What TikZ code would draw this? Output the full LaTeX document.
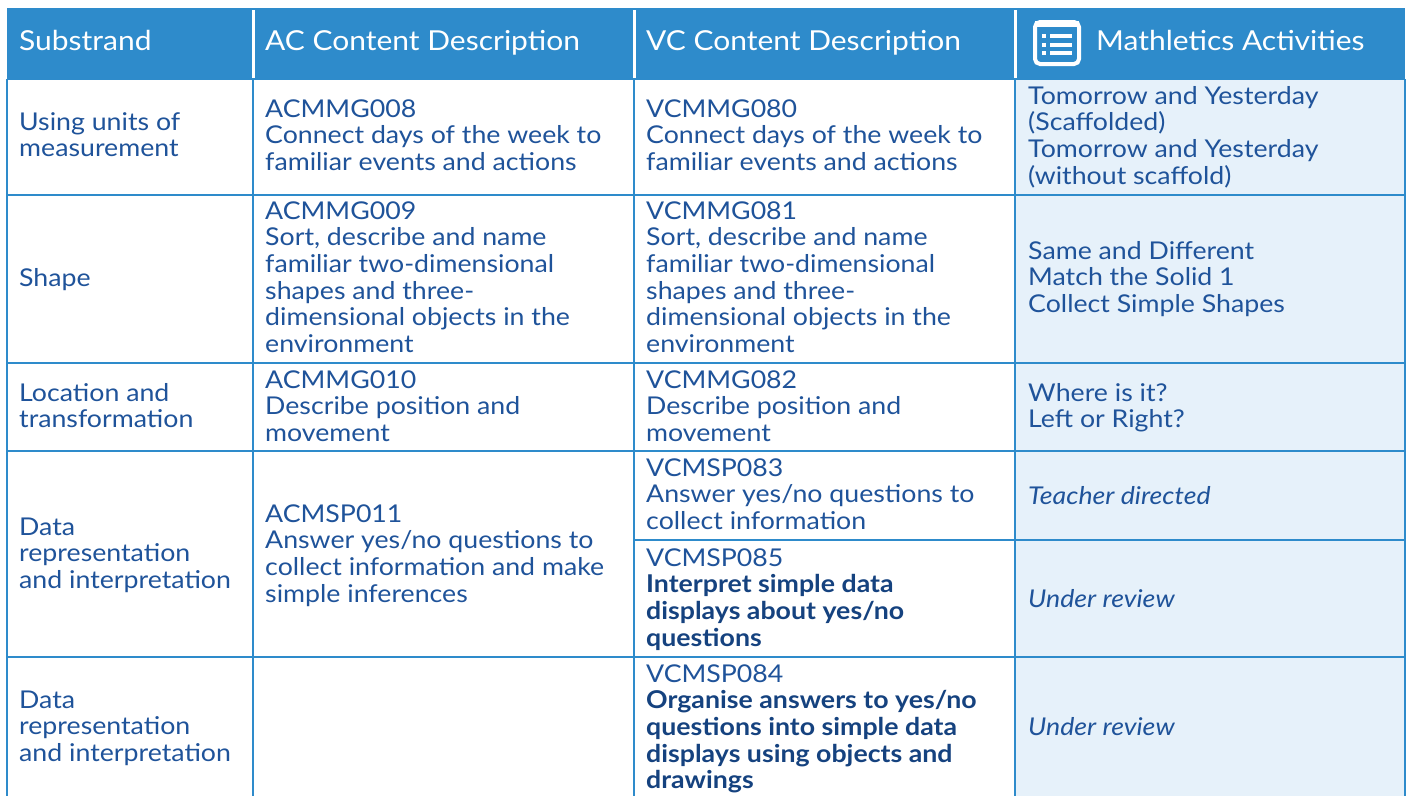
\documentclass[tikz,border=0pt]{standalone}
\usepackage{fontspec}
\setmainfont{Lato}[FakeStretch=1.09]
\definecolor{hdr}{HTML}{2E8BCB}
\definecolor{grid}{HTML}{2E8BCB}
\definecolor{txt}{HTML}{1F539A}
\definecolor{txtb}{HTML}{15427F}
\definecolor{actfill}{HTML}{E6F1FA}
\newcommand{\celltxt}[2]{\parbox[t]{#1}{\raggedright #2}}
\begin{document}
\begin{tikzpicture}[x=1pt,y=-1pt,
  cell/.style={anchor=base west, inner sep=0pt, text=txt, font=\fontsize{24.5}{26.7}\selectfont},
  head/.style={anchor=base west, inner sep=0pt, text=white, font=\fontsize{27.5}{30}\selectfont},
  gridline/.style={draw=grid, line width=2pt},
  hdiv/.style={draw=white, line width=3pt}]
\useasboundingbox (0,0) rectangle (1410,796);
\fill[white] (0,0) rectangle (1410,796);
% header
\fill[hdr] (7,8) rectangle (1405,79);
\fill[actfill] (1015,79) rectangle (1405,796);
\draw[hdiv] (253,10) -- (253,79);
\draw[hdiv] (634,10) -- (634,79);
\draw[hdiv] (1015,10) -- (1015,79);
% icon
\draw[white, line width=4pt, rounded corners=5pt] (1035,22) rectangle (1079,64);
\fill[white] (1035,21) rectangle (1079,27);
\foreach \yy in {36,45,53} {
  \fill[white] (1042,\yy-2) rectangle (1046,\yy+2);
  \fill[white] (1050,\yy-1.6) rectangle (1072,\yy+1.6);
}
% grid
\draw[gridline] (7,79) -- (7,796);
\draw[gridline] (253,79) -- (253,796);
\draw[gridline] (634,79) -- (634,796);
\draw[gridline] (1015,79) -- (1015,796);
\draw[gridline] (1405,79) -- (1405,796);
\foreach \yy in {79,195,363,451,657} \draw[gridline] (7,\yy) -- (1405,\yy);
\draw[gridline] (634,540) -- (1405,540);
% header text
\node[head] (h1) at (19,50) {Substrand};
\node[head] (h2) at (265,50) {AC Content Description};
\node[head] (h3) at (646,50) {VC Content Description};
\node[head] (h4) at (1096,50) {Mathletics Activities};
% row 1
\node[cell] (r1a) at (19,130) {\celltxt{230pt}{Using units of\\measurement}};
\node[cell] (r1b) at (265,117) {\celltxt{365pt}{ACMMG008\\Connect days of the week to\\familiar events and actions}};
\node[cell] (r1c) at (646,117) {\celltxt{365pt}{VCMMG080\\Connect days of the week to\\familiar events and actions}};
\node[cell] (r1d) at (1028,104) {\celltxt{370pt}{Tomorrow and Yesterday\\(Scaffolded)\\Tomorrow and Yesterday\\(without scaffold)}};
% row 2
\node[cell] (r2a) at (19,286) {\celltxt{230pt}{Shape}};
\node[cell] (r2b) at (265,219) {\celltxt{365pt}{ACMMG009\\Sort, describe and name\\familiar two-dimensional\\shapes and three-\\dimensional objects in the\\environment}};
\node[cell] (r2c) at (646,219) {\celltxt{365pt}{VCMMG081\\Sort, describe and name\\familiar two-dimensional\\shapes and three-\\dimensional objects in the\\environment}};
\node[cell] (r2d) at (1028,259) {\celltxt{370pt}{Same and Different\\Match the Solid 1\\Collect Simple Shapes}};
% row 3
\node[cell] (r3a) at (19,401) {\celltxt{230pt}{Location and\\transformation}};
\node[cell] (r3b) at (265,388) {\celltxt{365pt}{ACMMG010\\Describe position and\\movement}};
\node[cell] (r3c) at (646,388) {\celltxt{365pt}{VCMMG082\\Describe position and\\movement}};
\node[cell] (r3d) at (1028,401) {\celltxt{370pt}{Where is it?\\Left or Right?}};
% row 4
\node[cell] (r4a) at (19,535) {\celltxt{230pt}{Data\\representation\\and interpretation}};
\node[cell] (r4b) at (265,522) {\celltxt{365pt}{ACMSP011\\Answer yes/no questions to\\collect information and make\\simple inferences}};
\node[cell] (r4c) at (646,476) {\celltxt{365pt}{VCMSP083\\Answer yes/no questions to\\collect information}};
\node[cell] (r4d) at (1028,504) {\celltxt{370pt}{\itshape Teacher directed}};
\node[cell] (r4e) at (646,566) {\celltxt{365pt}{VCMSP085\\{\bfseries\color{txtb}Interpret simple data\\displays about yes/no\\questions}}};
\node[cell] (r4f) at (1028,607) {\celltxt{370pt}{\itshape Under review}};
% row 5
\node[cell] (r5a) at (19,708) {\celltxt{230pt}{Data\\representation\\and interpretation}};
\node[cell] (r5c) at (646,682) {\celltxt{365pt}{VCMSP084\\{\bfseries\color{txtb}Organise answers to yes/no\\questions into simple data\\displays using objects and\\drawings}}};
\node[cell] (r5d) at (1028,735) {\celltxt{370pt}{\itshape Under review}};
\end{tikzpicture}
\end{document}
